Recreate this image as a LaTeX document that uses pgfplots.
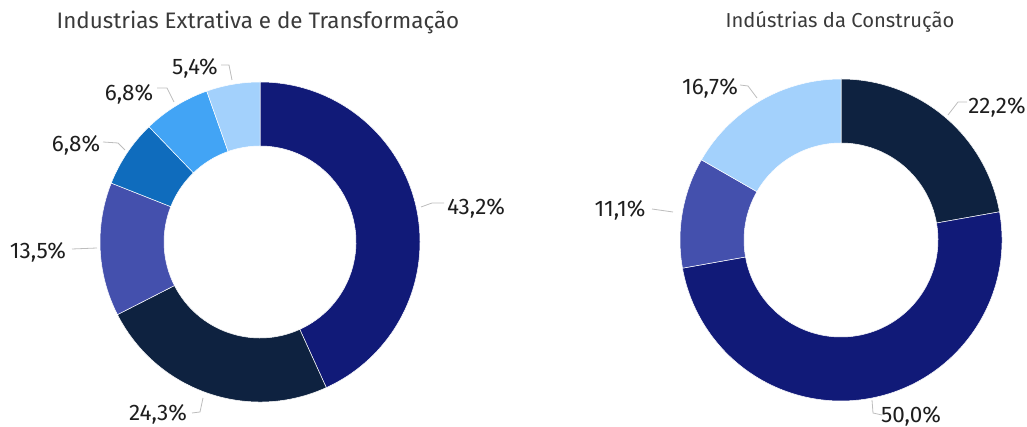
\documentclass[border=0pt]{standalone}
\usepackage{pgfplots}
\pgfplotsset{compat=1.18}
\usepackage{fontspec}
\setmainfont{Fira Sans}

% slice colours
\definecolor{cNavy}{HTML}{111A78}
\definecolor{cDark}{HTML}{0E2240}
\definecolor{cViolet}{HTML}{4450AD}
\definecolor{cMid}{HTML}{0F6CBD}
\definecolor{cSky}{HTML}{42A4F5}
\definecolor{cPale}{HTML}{A3D1FC}
\definecolor{txt}{HTML}{1E1E1E}
\definecolor{ttl}{HTML}{3A3A3A}
\definecolor{lead}{HTML}{BDBDBD}

% donut: centre x, centre y, outer r, inner r, list value/colour
\newcommand{\donut}[5]{%
  \gdef\slStart{90}%
  \foreach \v/\c in {#5}{%
    \pgfmathsetmacro\slEnd{\slStart-3.6*\v}%
    \edef\temp{\noexpand\fill[fill=\c, draw=white, line width=0.5pt]
      (axis cs:#1,#2) ++(\slStart:#3pt)
      arc[start angle=\slStart, end angle=\slEnd, radius=#3pt]
      -- ++(\slEnd:-#3pt+#4pt)
      arc[start angle=\slEnd, end angle=\slStart, radius=#4pt] -- cycle;}%
    \temp
    \global\let\slStart\slEnd
  }%
}

\begin{document}
\begin{tikzpicture}
\begin{axis}[
  width=1027pt, height=427pt, scale only axis,
  xmin=0, xmax=1027, ymin=0, ymax=427,
  enlargelimits=false, hide axis, clip=false,
]
\path (axis cs:0,0) rectangle (axis cs:1027,427);

% left: Industrias Extrativa e de Transformacao
\donut{260}{185}{160}{96}{43.2/cNavy, 24.3/cDark, 13.5/cViolet, 6.8/cMid, 6.8/cSky, 5.4/cPale}
% right: Industrias da Construcao
\donut{841}{187}{161}{97}{22.2/cDark, 50.0/cNavy, 11.1/cViolet, 16.7/cPale}

\node[text=ttl, font=\fontsize{22.4}{26}\selectfont] at (axis cs:258,405) {Industrias Extrativa e de Transformação};
\node[text=ttl, font=\fontsize{20.2}{24}\selectfont] at (axis cs:840,405) {Indústrias da Construção};

\begin{scope}[lead, line width=0.8pt]
  % left leaders
  \draw (axis cs:221,362) -- (axis cs:229,362) -- (axis cs:232,347);
  \draw (axis cs:157,339) -- (axis cs:167,339) -- (axis cs:174,325);
  \draw (axis cs:103,285) -- (axis cs:118,284) -- (axis cs:125,277);
  \draw (axis cs:72,178) -- (axis cs:97,179);
  \draw (axis cs:192,14) -- (axis cs:200,15) -- (axis cs:203,29);
  \draw (axis cs:421,220) -- (axis cs:432,224) -- (axis cs:444,224);
  % right leaders
  \draw (axis cs:948,312) -- (axis cs:958,325) -- (axis cs:967,325);
  \draw (axis cs:740,342) -- (axis cs:748,341) -- (axis cs:757,329);
  \draw (axis cs:652,218) -- (axis cs:673,215);
  \draw (axis cs:872,27) -- (axis cs:873,14) -- (axis cs:882,12);
\end{scope}

\begin{scope}[every node/.style={text=txt, font=\fontsize{22.5}{26}\selectfont, inner sep=0pt}]
  \node at (axis cs:195,359) {5,4\%};
  \node at (axis cs:129,333) {6,8\%};
  \node at (axis cs:76,282) {6,8\%};
  \node at (axis cs:38,175) {13,5\%};
  \node at (axis cs:158,13) {24,3\%};
  \node at (axis cs:476,219) {43,2\%};
  \node at (axis cs:997,320) {22,2\%};
  \node at (axis cs:710,339) {16,7\%};
  \node at (axis cs:620,217) {11,1\%};
  \node at (axis cs:911,11) {50,0\%};
\end{scope}
\end{axis}
\end{tikzpicture}
\end{document}
